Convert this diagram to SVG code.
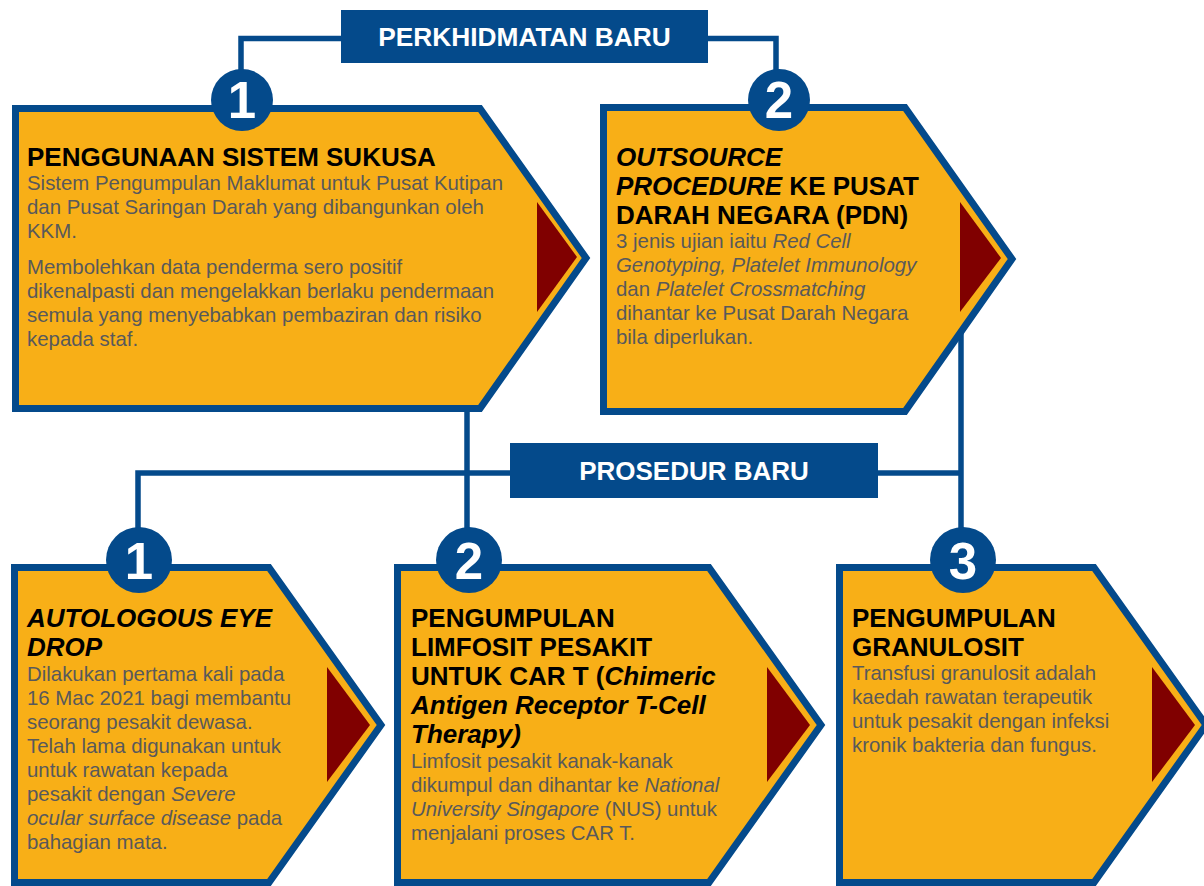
<svg xmlns="http://www.w3.org/2000/svg" width="1204" height="886" viewBox="0 0 1204 886">
<style>
.shape{fill:#F8AF17;stroke:#044A8B;stroke-width:7;stroke-linejoin:miter;stroke-miterlimit:10}
.tri{fill:#800000}
.hdr{fill:#044A8B}
.hdrt{font-family:"Liberation Sans",Arial,sans-serif;font-weight:bold;fill:#fff;text-anchor:middle}
.circ{fill:#044A8B}
.num{font-family:"Liberation Sans",Arial,sans-serif;font-weight:bold;font-size:51px;fill:#fff;text-anchor:middle}
.title{font-family:"Liberation Sans",Arial,sans-serif;font-weight:bold;font-size:26px;fill:#000}
.body{font-family:"Liberation Sans",Arial,sans-serif;font-size:20.4px;fill:#58595B}
.it{font-style:italic}
.conn{fill:none;stroke:#044A8B;stroke-width:5.5}
</style>
<rect width="1204" height="886" fill="#fff"/>
<g id="connectors">
<path class="conn" d="M341,38.5 H241 V75"/>
<path class="conn" d="M708,38.5 H776 V75"/>
<path class="conn" d="M467,400 V535"/>
<path class="conn" d="M510,473 H138 V535"/>
<path class="conn" d="M878,473 H961"/>
<path class="conn" d="M961,330 V535"/>
</g>
<g id="header-perkhidmatan">
<rect class="hdr" x="341" y="10" width="367" height="53"/>
<text class="hdrt" x="524.5" y="46" font-size="26.3">PERKHIDMATAN BARU</text>
</g>
<g id="header-prosedur">
<rect class="hdr" x="510" y="443" width="368" height="55"/>
<text class="hdrt" x="694" y="480" font-size="26">PROSEDUR BARU</text>
</g>
<g id="node-sukusa">
<path class="shape" d="M15.5,108.5 H480 L586,258 L480,408.5 H15.5 Z"/>
<path class="tri" d="M537,202 L577,257 L537,312 Z"/>
<circle class="circ" cx="242" cy="100" r="31"/>
<text class="num" x="242" y="118">1</text>
<text class="title" x="27" y="166">PENGGUNAAN SISTEM SUKUSA</text>
<text class="body" x="27" y="190">Sistem Pengumpulan Maklumat untuk Pusat Kutipan</text>
<text class="body" x="27" y="214">dan Pusat Saringan Darah yang dibangunkan oleh</text>
<text class="body" x="27" y="238">KKM.</text>
<text class="body" x="27" y="274">Membolehkan data penderma sero positif</text>
<text class="body" x="27" y="298">dikenalpasti dan mengelakkan berlaku pendermaan</text>
<text class="body" x="27" y="322">semula yang menyebabkan pembaziran dan risiko</text>
<text class="body" x="27" y="346">kepada staf.</text>
</g>
<g id="node-outsource">
<path class="shape" d="M603.5,107.5 H905 L1012,259 L905,411.5 H603.5 Z"/>
<path class="tri" d="M960,202 L1001,258 L960,312 Z"/>
<circle class="circ" cx="779" cy="100" r="31"/>
<text class="num" x="779" y="118">2</text>
<text class="title it" x="616" y="166">OUTSOURCE</text>
<text class="title" x="616" y="195"><tspan class="it">PROCEDURE</tspan> KE PUSAT</text>
<text class="title" x="616" y="224">DARAH NEGARA (PDN)</text>
<text class="body" x="616" y="248">3 jenis ujian iaitu <tspan class="it">Red Cell</tspan></text>
<text class="body it" x="616" y="272">Genotyping, Platelet Immunology</text>
<text class="body" x="616" y="296">dan <tspan class="it">Platelet Crossmatching</tspan></text>
<text class="body" x="616" y="320">dihantar ke Pusat Darah Negara</text>
<text class="body" x="616" y="344">bila diperlukan.</text>
</g>
<g id="node-eyedrop">
<path class="shape" d="M14.5,567.5 H269 L381,725 L269,882.5 H14.5 Z"/>
<path class="tri" d="M327,667 L370,725 L327,782 Z"/>
<circle class="circ" cx="139" cy="560" r="33"/>
<text class="num" x="139" y="579">1</text>
<text class="title it" x="27" y="627">AUTOLOGOUS EYE</text>
<text class="title it" x="27" y="656">DROP</text>
<text class="body" x="27" y="681">Dilakukan pertama kali pada</text>
<text class="body" x="27" y="705">16 Mac 2021 bagi membantu</text>
<text class="body" x="27" y="729">seorang pesakit dewasa.</text>
<text class="body" x="27" y="753">Telah lama digunakan untuk</text>
<text class="body" x="27" y="777">untuk rawatan kepada</text>
<text class="body" x="27" y="801">pesakit dengan <tspan class="it">Severe</tspan></text>
<text class="body" x="27" y="825"><tspan class="it">ocular surface disease</tspan> pada</text>
<text class="body" x="27" y="849">bahagian mata.</text>
</g>
<g id="node-limfosit">
<path class="shape" d="M397.5,567.5 H709 L821,725 L709,882.5 H397.5 Z"/>
<path class="tri" d="M767,667 L810,725 L767,782 Z"/>
<circle class="circ" cx="469" cy="560" r="33"/>
<text class="num" x="469" y="579">2</text>
<text class="title" x="411" y="627">PENGUMPULAN</text>
<text class="title" x="411" y="656">LIMFOSIT PESAKIT</text>
<text class="title" x="411" y="685">UNTUK CAR T (<tspan class="it">Chimeric</tspan></text>
<text class="title it" x="411" y="714">Antigen Receptor T-Cell</text>
<text class="title it" x="411" y="743">Therapy)</text>
<text class="body" x="411" y="768">Limfosit pesakit kanak-kanak</text>
<text class="body" x="411" y="792">dikumpul dan dihantar ke <tspan class="it">National</tspan></text>
<text class="body" x="411" y="816"><tspan class="it">University Singapore</tspan> (NUS) untuk</text>
<text class="body" x="411" y="840">menjalani proses CAR T.</text>
</g>
<g id="node-granulosit">
<path class="shape" d="M839.5,567.5 H1094 L1206,725 L1094,882.5 H839.5 Z"/>
<path class="tri" d="M1152,667 L1195,725 L1152,782 Z"/>
<circle class="circ" cx="963" cy="560" r="33"/>
<text class="num" x="963" y="579">3</text>
<text class="title" x="852" y="627">PENGUMPULAN</text>
<text class="title" x="852" y="656">GRANULOSIT</text>
<text class="body" x="852" y="680">Transfusi granulosit adalah</text>
<text class="body" x="852" y="704">kaedah rawatan terapeutik</text>
<text class="body" x="852" y="728">untuk pesakit dengan infeksi</text>
<text class="body" x="852" y="752">kronik bakteria dan fungus.</text>
</g>
</svg>
